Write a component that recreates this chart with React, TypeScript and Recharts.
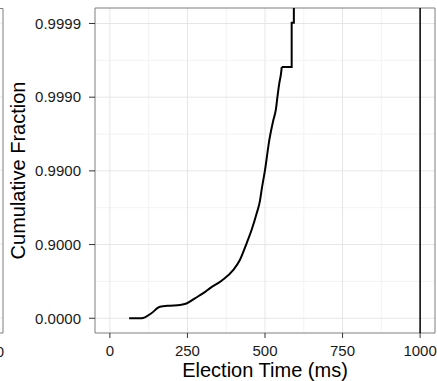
import { LineChart, Line, XAxis, YAxis, CartesianGrid, ReferenceLine, ReferenceArea } from "recharts";

const electionMs = [62, 102, 134, 161, 194, 226, 247, 274, 301, 323, 360, 398, 419, 441, 457, 473, 484, 489, 500, 514, 527, 535, 540, 546, 551, 554, 586, 586, 593, 593];
const cumulativeFraction = [
  0, 0, 0.145, 0.303, 0.326, 0.34, 0.37, 0.463, 0.543, 0.61, 0.691, 0.779, 0.838, 0.9045, 0.937, 0.962, 0.9749,
  0.9818, 0.99023, 0.9962, 0.99796, 0.99852, 0.999, 0.99935, 0.9995, 0.99961, 0.99961, 0.999902, 0.999902, 0.999975,
];
// the last few samples form visible steps; everything before is drawn smooth
const stepsFromIndex = 25;
const timeoutMs = 1000;

const xTicks = [0, 250, 500, 750, 1000];
const xMinor = [125, 375, 625, 875];
const yTicks = [0, 1, 2, 3, 4];
const yMinor = [0.5, 1.5, 2.5, 3.5];
const yTickLabels = ["0.0000", "0.9000", "0.9900", "0.9990", "0.9999"];

// plot on a -log10(1 - p) scale so the tail is visible
const toTail = (p: number) => (p <= 0 ? 0 : -Math.log10(1 - p));

const data = electionMs.map((ms, i) => {
  const t = toTail(cumulativeFraction[i]);
  return {
    ms,
    smooth: i <= stepsFromIndex ? t : null,
    steps: i >= stepsFromIndex ? t : null,
  };
});

const FONT = "'Liberation Sans', Arial, Helvetica, sans-serif";
const tickStyle = { fontSize: 15, fontFamily: FONT, fill: "#1a1a1a" };

export default function App() {
  return (
    <div style={{ position: "absolute", left: 0, top: 0, width: 437, height: 381, overflow: "hidden", background: "#fff" }}>
      <LineChart width={437} height={381} data={data} margin={{ top: 8, right: 2, bottom: 0, left: 0 }}>
        <CartesianGrid
          stroke="#f3f3f3"
          horizontalValues={yMinor}
          verticalValues={xMinor}
          syncWithTicks={false}
        />
        <CartesianGrid stroke="#e6e6e6" horizontalValues={yTicks} verticalValues={xTicks} />
        <XAxis
          dataKey="ms"
          type="number"
          domain={[-48, 1048]}
          ticks={xTicks}
          allowDataOverflow
          height={48}
          axisLine={false}
          tickLine={{ stroke: "#333" }}
          tickSize={5}
          tickMargin={7}
          tick={tickStyle}
        />
        <YAxis
          type="number"
          domain={[-0.2, 4.21]}
          ticks={yTicks}
          allowDataOverflow
          width={95}
          axisLine={false}
          tickLine={{ stroke: "#333" }}
          tickSize={6}
          tickMargin={8}
          tick={tickStyle}
          tickFormatter={(v: number) => yTickLabels[yTicks.indexOf(v)] ?? ""}
        />
        <ReferenceLine x={timeoutMs} stroke="#000" strokeWidth={1.5} />
        <Line
          type="monotone"
          dataKey="smooth"
          stroke="#000"
          strokeWidth={2}
          dot={false}
          connectNulls={false}
          isAnimationActive={false}
        />
        <Line
          type="linear"
          dataKey="steps"
          stroke="#000"
          strokeWidth={2}
          dot={false}
          connectNulls={false}
          isAnimationActive={false}
        />
        <ReferenceArea x1={-48} x2={1048} y1={-0.2} y2={4.21} fill="none" stroke="#7f7f7f" strokeWidth={1} />
      </LineChart>
      <svg
        width={437}
        height={381}
        style={{ position: "absolute", left: 0, top: 0, pointerEvents: "none" }}
      >
        {/* right edge of the neighbouring panel */}
        {[23, 97, 170, 244, 318].map((y) => (
          <line key={y} x1={0} x2={2.5} y1={y} y2={y} stroke="#e6e6e6" />
        ))}
        <polyline points="0,8.5 3,8.5 3,333 0,333" fill="none" stroke="#7f7f7f" />
        <text x={4} y={357} textAnchor="end" fontSize={15} fontFamily={FONT} fill="#1a1a1a">1000</text>
        <text x={265} y={377} textAnchor="middle" fontSize={20} fontFamily={FONT} fill="#000">
          Election Time (ms)
        </text>
        <text
          transform="translate(25,170.5) rotate(-90)"
          textAnchor="middle"
          fontSize={20}
          fontFamily={FONT}
          fill="#000"
        >
          Cumulative Fraction
        </text>
      </svg>
    </div>
  );
}
